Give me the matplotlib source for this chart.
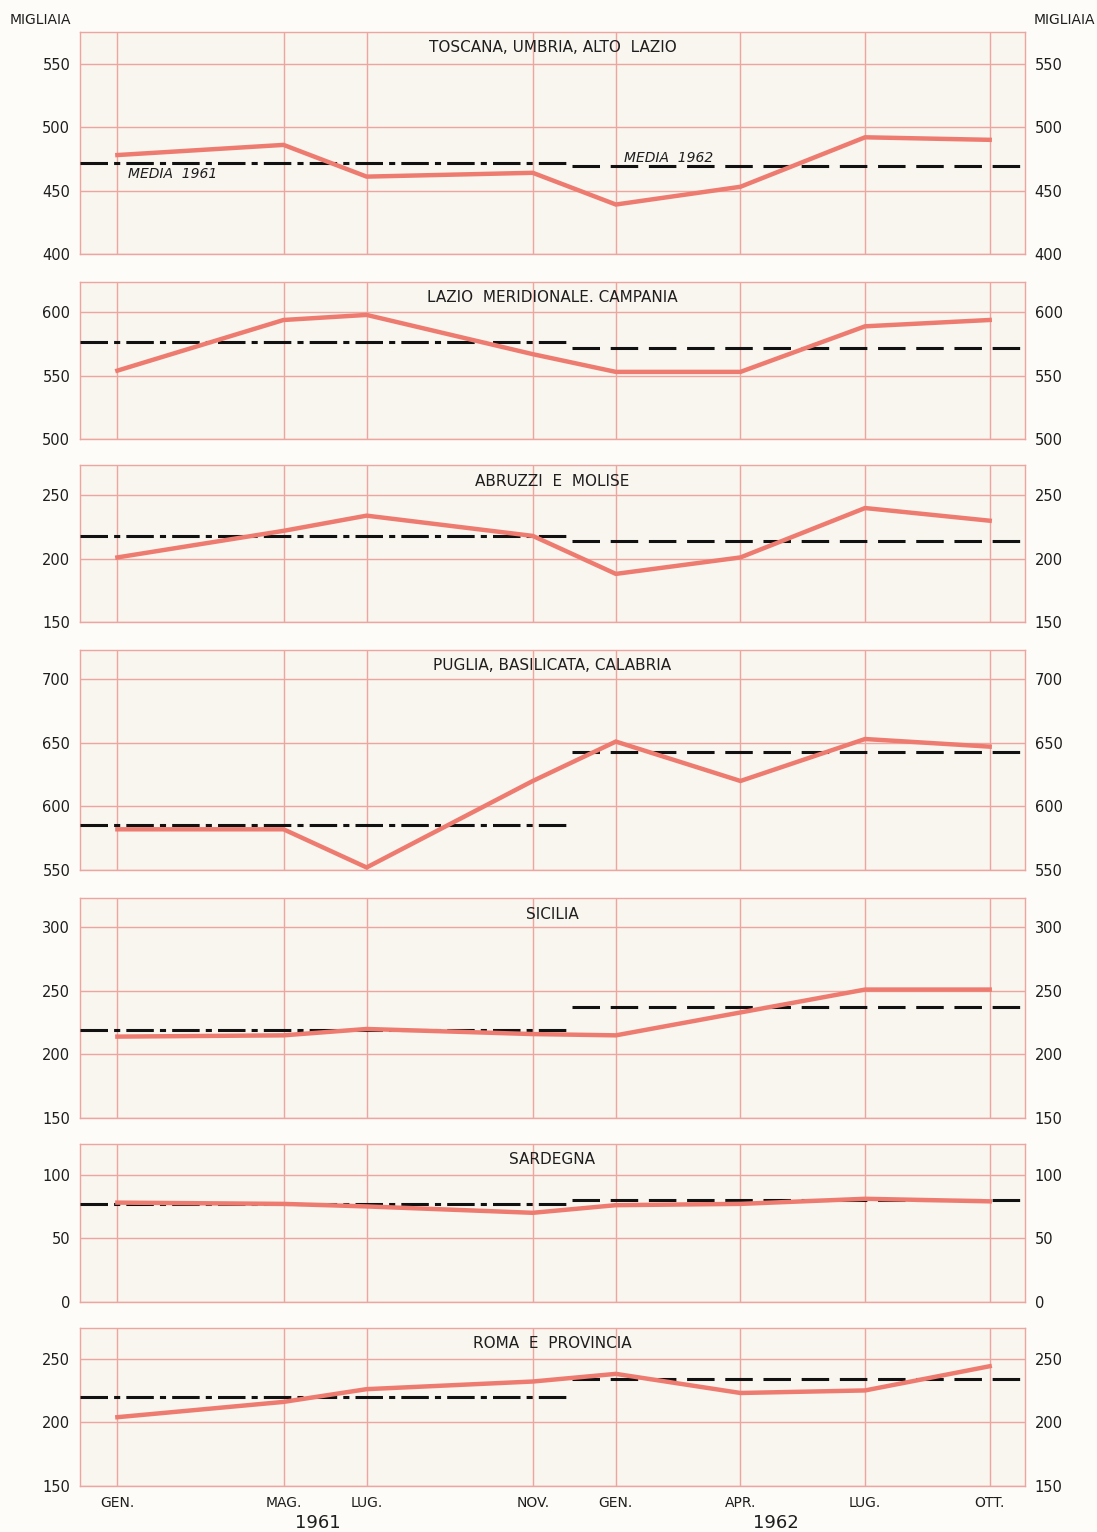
import matplotlib
matplotlib.use("Agg")
import matplotlib.pyplot as plt

# months from Jan 1961
months = [0, 4, 6, 10, 12, 15, 18, 21]
month_labels = ["GEN.", "MAG.", "LUG.", "NOV.", "GEN.", "APR.", "LUG.", "OTT."]

regions = ["TOSCANA, UMBRIA, ALTO  LAZIO", "LAZIO  MERIDIONALE. CAMPANIA",
           "ABRUZZI  E  MOLISE", "PUGLIA, BASILICATA, CALABRIA",
           "SICILIA", "SARDEGNA", "ROMA  E  PROVINCIA"]

toscana = [478, 486, 461, 464, 439, 453, 492, 490]
lazio_mer = [554, 594, 598, 567, 553, 553, 589, 594]
abruzzi = [201, 222, 234, 218, 188, 201, 240, 230]
puglia = [582, 582, 552, 620, 651, 620, 653, 647]
sicilia = [214, 215, 220, 216, 215, 233, 251, 251]
sardegna = [78, 77, 75, 70, 76, 77, 81, 79]
roma = [204, 216, 226, 232, 238, 223, 225, 244]

media_1961 = [472, 577, 218, 585, 219, 77, 220]
media_1962 = [469, 572, 214, 643, 237, 80, 234]

y_min = [400, 500, 150, 550, 150, 0, 150]
y_max = [575, 624, 274, 723, 323, 124, 274]

series = [toscana, lazio_mer, abruzzi, puglia, sicilia, sardegna, roma]

W, H = 1097, 1532
# panel top/bottom in pixels
panel_px = [(32, 254), (282, 439), (465, 622), (650, 870),
            (898, 1118), (1144, 1302), (1328, 1486)]

red = "#ee7b70"
grid_red = "#eda5a0"
ink = "#1e1e1e"

fig = plt.figure(figsize=(W / 100, H / 100), dpi=100)
fig.patch.set_facecolor("#fdfcf9")

x_left, x_right = 80 / W, 1025 / W

for i, (top, bot) in enumerate(panel_px):
    ax = fig.add_axes([x_left, 1 - bot / H, x_right - x_left, (bot - top) / H])
    ax.set_facecolor("#f9f5ef")
    ax.set_xlim(-0.9, 21.85)
    ax.set_ylim(y_min[i], y_max[i])
    ax.set_yticks(list(range(y_min[i], y_max[i] + 1, 50)))
    ax.set_xticks(months)
    ax.grid(True, color=grid_red, linewidth=1.0)
    for s in ax.spines.values():
        s.set_color(grid_red)
        s.set_linewidth(1.0)
    ax.tick_params(axis="y", length=0, pad=7, labelsize=10.5,
                   labelleft=True, labelright=True, colors=ink)
    ax.tick_params(axis="x", length=0, pad=7, labelsize=10, colors=ink)
    if i == len(panel_px) - 1:
        ax.set_xticklabels(month_labels)
    else:
        ax.set_xticklabels([])

    ax.plot([-0.9, 10.85], [media_1961[i]] * 2, color="#111111", lw=2.2,
            dashes=(9, 2, 2, 2), zorder=3)
    ax.plot([10.95, 21.85], [media_1962[i]] * 2, color="#111111", lw=2.2,
            dashes=(9, 3.5), zorder=3)
    ax.plot(months, series[i], color=red, lw=3.2, solid_joinstyle="miter",
            zorder=4)

    ax.annotate(regions[i], xy=(0.5, 1), xycoords="axes fraction",
                xytext=(0, -16), textcoords="offset pixels",
                ha="center", va="center", fontsize=11, color=ink)

    if i == 0:
        ax.text(0.25, 463, "MEDIA  1961", fontsize=10, style="italic",
                color=ink, va="center")
        ax.text(12.2, 476, "MEDIA  1962", fontsize=10, style="italic",
                color=ink, va="center")

fig.text(10 / W, 1 - 20 / H, "MIGLIAIA", fontsize=10, va="center",
         ha="left", color=ink)
fig.text(1095 / W, 1 - 20 / H, "MIGLIAIA", fontsize=10, va="center",
         ha="right", color=ink)
fig.text(318 / W, 1 - 1523 / H, "1961", fontsize=13, ha="center",
         va="center", color=ink)
fig.text(776 / W, 1 - 1523 / H, "1962", fontsize=13, ha="center",
         va="center", color=ink)

fig.savefig("out.png", dpi=100, facecolor=fig.get_facecolor())
